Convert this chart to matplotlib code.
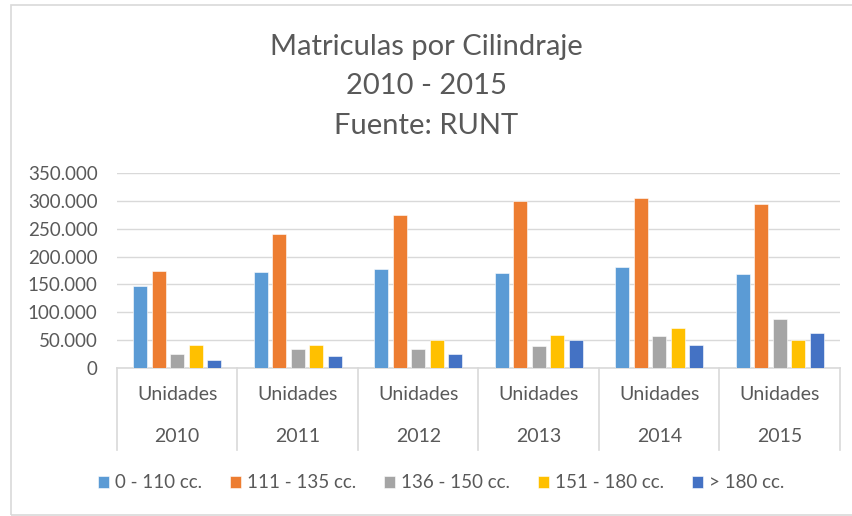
import numpy as np
import matplotlib
matplotlib.use("Agg")
import matplotlib.pyplot as plt
import matplotlib.transforms as mtransforms
from matplotlib.patches import Rectangle
from matplotlib.ticker import FuncFormatter

plt.rcParams['font.family'] = ['Lato', 'DejaVu Sans']

# datos
years = ['2010', '2011', '2012', '2013', '2014', '2015']
series = ['0 - 110 cc.', '111 - 135 cc.', '136 - 150 cc.', '151 - 180 cc.', '> 180 cc.']
cc_0_110 = [148000, 172000, 177000, 170000, 181000, 168000]
cc_111_135 = [175000, 240000, 275000, 300000, 306000, 294000]
cc_136_150 = [25000, 35000, 35000, 39000, 58000, 88000]
cc_151_180 = [42000, 42000, 51000, 60000, 72000, 50000]
cc_180 = [15000, 21000, 25000, 50000, 41000, 62000]
colors = ['#5B9BD5', '#ED7D31', '#A5A5A5', '#FFC000', '#4472C4']

txt = '#595959'
W, H = 853, 516
fig = plt.figure(figsize=(W / 100, H / 100), dpi=100)

# borde del grafico
fig.patches.append(Rectangle((11 / W, 1 / H), 1.0, 510 / H, transform=fig.transFigure,
                             fill=False, edgecolor='#d9d9d9', lw=1.2))

ax = fig.add_axes([117 / W, (H - 368) / H, (840 - 117) / W, (368 - 173) / H])

x = np.arange(len(years))
step, width = 0.154, 0.118
data = [cc_0_110, cc_111_135, cc_136_150, cc_151_180, cc_180]
for i, (vals, c, lab) in enumerate(zip(data, colors, series)):
    ax.bar(x + (i - 2) * step, vals, width, color=c, label=lab,
           edgecolor='white', linewidth=0.4, zorder=3)

ax.set_xlim(-0.5, len(years) - 0.5)
ax.set_ylim(0, 350000)
ax.set_yticks(np.arange(0, 350001, 50000))
ax.yaxis.set_major_formatter(FuncFormatter(lambda v, p: f'{int(v):,}'.replace(',', '.')))
ax.tick_params(axis='y', length=0, labelsize=13.5, colors=txt, pad=14)
ax.set_xticks([])
ax.grid(axis='y', color='#d9d9d9', lw=1, zorder=0)
for s in ax.spines.values():
    s.set_visible(False)

# eje de categorias con dos niveles
trans = mtransforms.blended_transform_factory(ax.transData, ax.transAxes)
ax.plot([-0.5, len(years) - 0.5], [0, 0], transform=trans, color='#d9d9d9', lw=1.2, clip_on=False)
ybot = -(450 - 368) / (368 - 173)
for b in np.arange(-0.5, len(years), 1.0):
    ax.plot([b, b], [0, ybot], transform=trans, color='#d9d9d9', lw=1.2, clip_on=False)
for xi, yr in zip(x, years):
    ax.text(xi, -(395 - 368) / 195, 'Unidades', transform=trans, ha='center', va='center',
            fontsize=14, color=txt)
    ax.text(xi, -(437 - 368) / 195, yr, transform=trans, ha='center', va='center',
            fontsize=14, color=txt)

fig.text(0.5, 1 - 47 / H, 'Matriculas por Cilindraje', ha='center', va='center', fontsize=21, color=txt)
fig.text(0.5, 1 - 86 / H, '2010 - 2015', ha='center', va='center', fontsize=21, color=txt)
fig.text(0.5, 1 - 126 / H, 'Fuente: RUNT', ha='center', va='center', fontsize=21, color=txt)

leg = fig.legend(loc='center', bbox_to_anchor=(441 / W, 1 - 483 / H), ncol=5, frameon=False,
                 handlelength=0.6, handleheight=0.6, handletextpad=0.3, columnspacing=1.5,
                 fontsize=13.5)
for t in leg.get_texts():
    t.set_color(txt)

fig.savefig('out.png', dpi=100)
